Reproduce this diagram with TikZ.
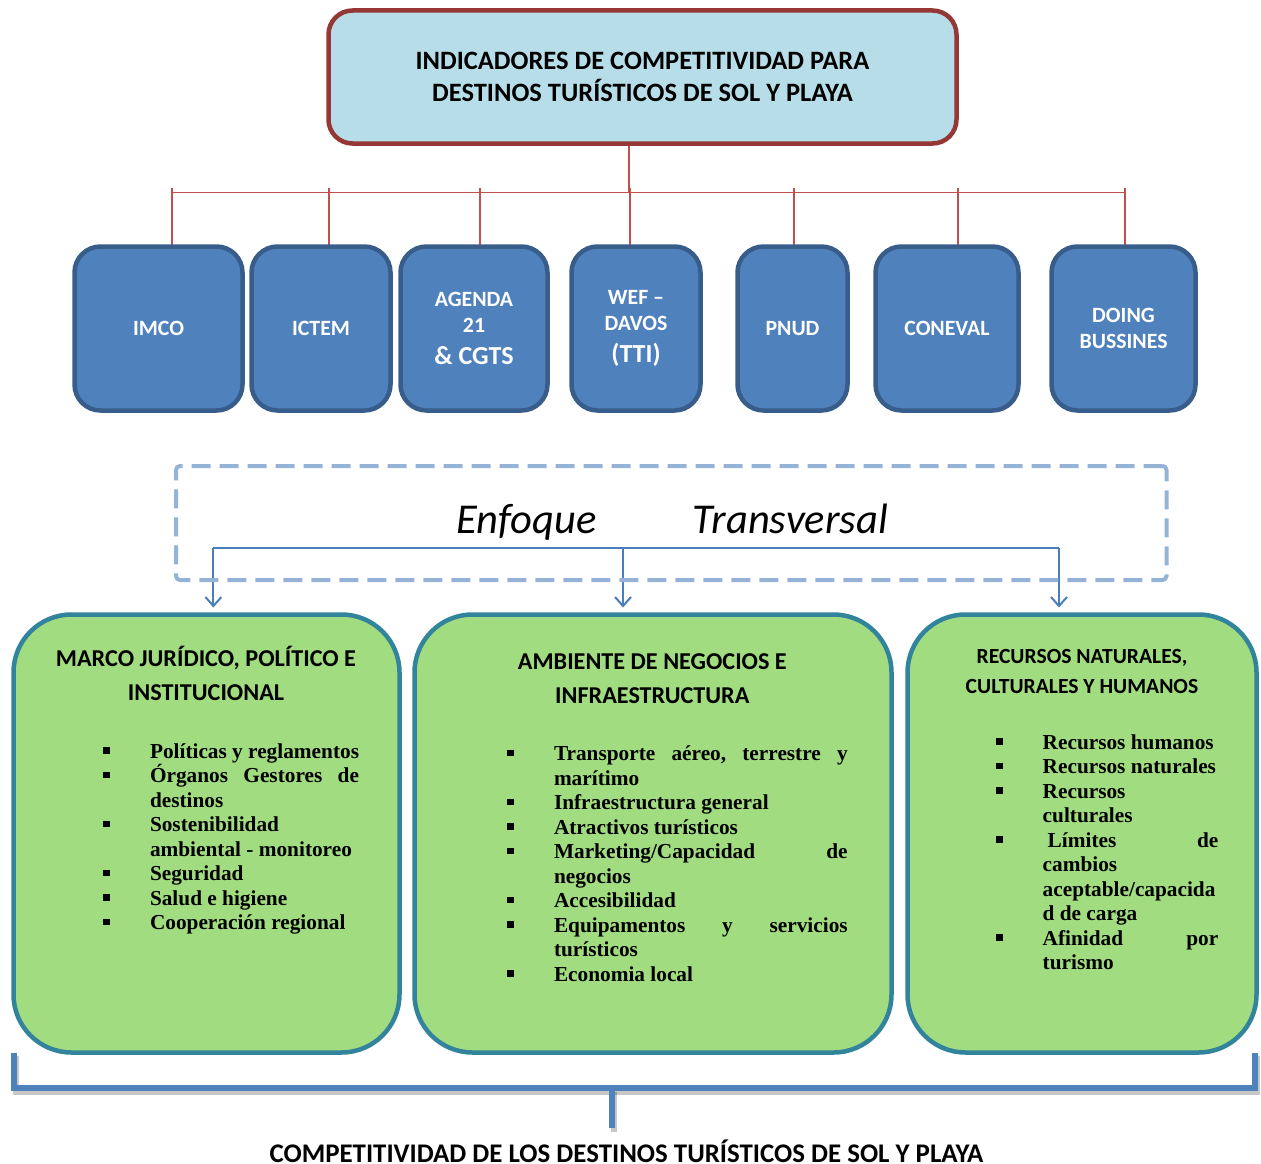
\documentclass[tikz,border=0pt]{standalone}
\usepackage{fontspec}
\setmainfont{Liberation Serif}
\newfontfamily\cf{Carlito}
\usetikzlibrary{arrows.meta}
\definecolor{titlefill}{HTML}{B7DEE8}
\definecolor{titledraw}{HTML}{953735}
\definecolor{treered}{HTML}{C0504D}
\definecolor{bluefill}{HTML}{4F81BD}
\definecolor{bluedraw}{HTML}{385D8A}
\definecolor{dashblue}{HTML}{95B3D7}
\definecolor{arrblue}{HTML}{4A7EBB}
\definecolor{greenfill}{HTML}{A2DC80}
\definecolor{greendraw}{HTML}{31849B}
\pgfdeclarelayer{bg}
\pgfsetlayers{bg,main}
\newlength{\listw}
\newcommand{\bsq}{\rule[4.5pt]{6.7pt}{6.7pt}}
\newcommand{\bfirst}[1]{\hbox to \listw{\hbox to 46.7pt{\bsq\hfil}#1\hfil}}
\newcommand{\bcont}[1]{\hbox to \listw{\hskip46.7pt #1\hfil}}
\newcommand{\clines}[1]{\vtop{\halign{\hfil##\hfil\cr#1\crcr}}}
\newcommand{\blist}[2]{\setlength{\listw}{#1}\vtop{\baselineskip=24.5pt #2}}
\begin{document}
\begin{tikzpicture}[x=1pt,y=-1pt,
  every node/.style={inner sep=0pt, outer sep=0pt},
  titlebox/.style={draw=titledraw, line width=4.5pt, fill=titlefill, rounded corners=24pt,
    minimum width=628pt, minimum height=133pt, font=\cf\bfseries\fontsize{26.5}{32}\selectfont},
  orgbox/.style={draw=bluedraw, line width=4.5pt, fill=bluefill, rounded corners=26pt,
    minimum height=164pt, text=white, font=\cf\bfseries\fontsize{21.8}{26}\selectfont},
  framebox/.style={draw=dashblue, line width=4pt, dash pattern=on 19pt off 9pt, rounded corners=4pt,
    minimum width=990.5pt, minimum height=114pt},
  enfoque/.style={font=\cf\itshape\fontsize{42.5}{44}\selectfont, anchor=base west},
  greenbox/.style={draw=greendraw, line width=4.5pt, fill=greenfill, rounded corners=58pt, minimum height=438pt},
  gtitle/.style={font=\cf\bfseries\fontsize{24.2}{34}\selectfont, anchor=base},
  gtitlesm/.style={font=\cf\bfseries\fontsize{21.6}{30}\selectfont, anchor=base},
  listtxt/.style={font=\bfseries\fontsize{21.3}{24.5}\selectfont, anchor=base west},
  bottomtxt/.style={font=\cf\bfseries\fontsize{26.9}{30}\selectfont, anchor=base},
  treeline/.style={draw=treered, line width=1.6pt},
  arr/.style={draw=arrblue, line width=2pt, -{Straight Barb[length=9pt,width=16pt]}, shorten >=7pt},
  bracket/.style={draw=bluefill, line width=6pt},
  bracketshadow/.style={draw=black, opacity=0.22, line width=6pt}
]
\useasboundingbox (0,0) rectangle (1261,1164);

% top title
\node[titlebox] (title) at (642.5,77) {\clines{INDICADORES DE COMPETITIVIDAD PARA\cr DESTINOS TURÍSTICOS DE SOL Y PLAYA}};

% indicator boxes
\node[orgbox, minimum width=168pt] (imco) at (158.5,328.5) {IMCO};
\node[orgbox, minimum width=139pt] (ictem) at (321,328.5) {ICTEM};
\node[orgbox, minimum width=147pt] (agenda) at (474,328.5) {\clines{AGENDA\cr 21\cr\noalign{\vskip6pt}{\fontsize{26}{26}\selectfont\& CGTS}}};
\node[orgbox, minimum width=129pt] (wef) at (636,328.5) {\clines{WEF –\cr DAVOS\cr\noalign{\vskip6pt}{\fontsize{26}{26}\selectfont(TTI)}}};
\node[orgbox, minimum width=110pt] (pnud) at (792.5,328.5) {PNUD};
\node[orgbox, minimum width=143pt] (coneval) at (947,328.5) {CONEVAL};
\node[orgbox, minimum width=144pt] (doing) at (1123.5,328.5) {\clines{DOING\cr BUSSINES}};

% tree coordinates
\coordinate (tbase) at (629,192.5);
\coordinate (d1) at (172,188);
\coordinate (d2) at (329,188);
\coordinate (d3) at (480,188);
\coordinate (d4) at (630,188);
\coordinate (d5) at (794,188);
\coordinate (d6) at (958,188);
\coordinate (d7) at (1125,188);

% transversal frame
\node[framebox] (frame) at (671.25,523) {};
\node[enfoque] (enf) at (456,533) {\hbox to 432pt{Enfoque\hfill Transversal}};
\coordinate (hub) at (623,548);
\coordinate (la) at (213.4,548);
\coordinate (ra) at (1059,548);

% green boxes
\node[greenbox, minimum width=386pt] (g1) at (206.5,833.5) {};
\node[greenbox, minimum width=477pt] (g2) at (653,833.5) {};
\node[greenbox, minimum width=349pt] (g3) at (1082,833.5) {};

\node[gtitle] (g1t) at (206,666.7) {\clines{MARCO JURÍDICO, POLÍTICO E\cr INSTITUCIONAL}};
\node[gtitle] (g2t) at (652.3,669.3) {\clines{AMBIENTE DE NEGOCIOS E\cr INFRAESTRUCTURA}};
\node[gtitlesm] (g3t) at (1082,663.3) {\clines{RECURSOS NATURALES,\cr CULTURALES Y HUMANOS}};

\node[listtxt] (g1l) at (103.3,758.3) {\blist{255.7pt}{%
  \bfirst{Políticas y reglamentos}%
  \bfirst{Órganos\hfill Gestores\hfill de}%
  \bcont{destinos}%
  \bfirst{Sostenibilidad}%
  \bcont{ambiental - monitoreo}%
  \bfirst{Seguridad}%
  \bfirst{Salud e higiene}%
  \bfirst{Cooperación regional}}};

\node[listtxt] (g2l) at (507.3,760.7) {\blist{340.4pt}{%
  \bfirst{Transporte\hfill aéreo,\hfill terrestre\hfill y}%
  \bcont{marítimo}%
  \bfirst{Infraestructura general}%
  \bfirst{Atractivos turísticos}%
  \bfirst{Marketing/Capacidad\hfill de}%
  \bcont{negocios}%
  \bfirst{Accesibilidad}%
  \bfirst{Equipamentos\hfill y\hfill servicios}%
  \bcont{turísticos}%
  \bfirst{Economia local}}};

\node[listtxt] (g3l) at (996,749.3) {\blist{222.3pt}{%
  \bfirst{Recursos humanos}%
  \bfirst{Recursos naturales}%
  \bfirst{Recursos}%
  \bcont{culturales}%
  \bfirst{\hskip5pt Límites\hfill de}%
  \bcont{cambios}%
  \bcont{aceptable/capacida}%
  \bcont{d de carga}%
  \bfirst{Afinidad\hfill por}%
  \bcont{turismo}}};

% bottom bracket
\coordinate (br) at (1255,1088);
\coordinate (bk) at (612,1088);
\coordinate (bkend) at (612,1128);
\node[bottomtxt] (btxt) at (626.5,1162) {COMPETITIVIDAD DE LOS DESTINOS TURÍSTICOS DE SOL Y PLAYA};

\begin{pgfonlayer}{bg}
  % red tree
  \draw[treeline] (title.south -| tbase) -- (tbase);
  \draw[treeline] (d1 |- tbase) -- (d7 |- tbase);
  \draw[treeline] (d1) -- (d1 |- imco.north);
  \draw[treeline] (d2) -- (d2 |- ictem.north);
  \draw[treeline] (d3) -- (d3 |- agenda.north);
  \draw[treeline] (d4) -- (d4 |- wef.north);
  \draw[treeline] (d5) -- (d5 |- pnud.north);
  \draw[treeline] (d6) -- (d6 |- coneval.north);
  \draw[treeline] (d7) -- (d7 |- doing.north);
  % transversal arrows
  \draw[draw=arrblue, line width=2pt] (la) -- (ra);
  \draw[arr] (la) -- (la |- g1.north);
  \draw[arr] (hub) -- (hub |- g2.north);
  \draw[arr] (ra) -- (ra |- g3.north);
  % bracket
  \draw[bracketshadow] ([shift={(2,3.5)}]g1.south west) |- ([shift={(2,3.5)}]br) -- ([shift={(2,3.5)}]br |- g3.south east);
  \draw[bracketshadow] ([shift={(2,3.5)}]bk) -- ([shift={(2,3.5)}]bkend);
  \draw[bracket] (g1.south west) |- (br) -- (br |- g3.south east);
  \draw[bracket] (bk) -- (bkend);
\end{pgfonlayer}
\end{tikzpicture}
\end{document}
